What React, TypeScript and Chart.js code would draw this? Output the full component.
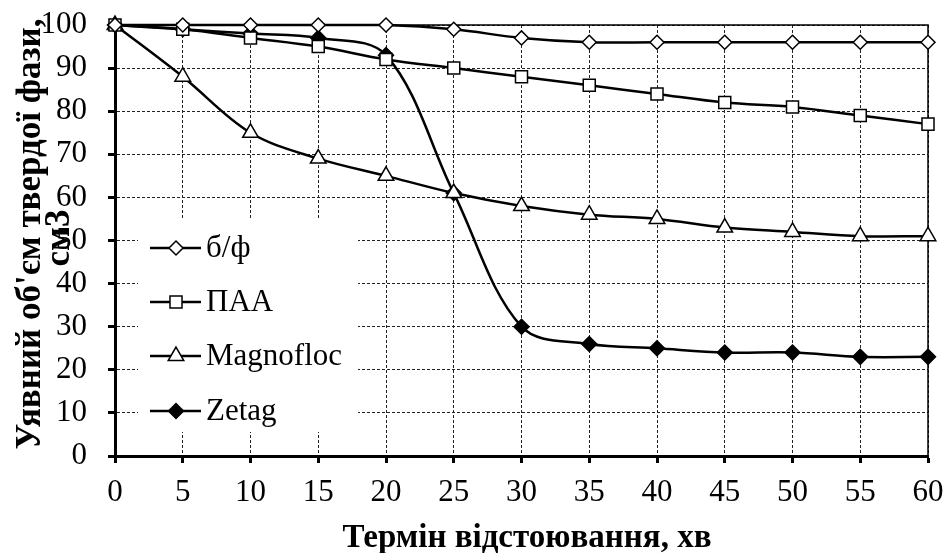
import React, { useEffect, useRef } from "react";
import { Chart, registerables } from "chart.js";

Chart.register(...registerables);

const times = [0, 5, 10, 15, 20, 25, 30, 35, 40, 45, 50, 55, 60];
const bf = [100, 100, 100, 100, 100, 99, 97, 96, 96, 96, 96, 96, 96];
const paa = [100, 99, 97, 95, 92, 90, 88, 86, 84, 82, 81, 79, 77];
const magnofloc = [100, 88, 75, 69, 65, 61, 58, 56, 55, 53, 52, 51, 51];
const zetag = [100, 99, 98, 97, 93, 61, 30, 26, 25, 24, 24, 23, 23];

const seriesNames = ["б/ф", "ПАА", "Magnofloc", "Zetag"];
const xTitle = "Термін відстоювання, хв";
const yTitleLines = ["Уявний об'єм твердої фази,", "см3"];

const FONT = "'Liberation Serif', 'Times New Roman', serif";

type Marker = { style: string; radius: number; fill: string };
const markers: Marker[] = [
  { style: "rectRot", radius: 7, fill: "#ffffff" },
  { style: "rect", radius: 8.5, fill: "#ffffff" },
  { style: "triangle", radius: 9, fill: "#ffffff" },
  { style: "rectRot", radius: 7.5, fill: "#000000" },
];

function drawMarker(ctx: CanvasRenderingContext2D, m: Marker, x: number, y: number) {
  const r = m.radius;
  ctx.beginPath();
  if (m.style === "rectRot") {
    ctx.moveTo(x - r, y);
    ctx.lineTo(x, y - r);
    ctx.lineTo(x + r, y);
    ctx.lineTo(x, y + r);
    ctx.closePath();
  } else if (m.style === "rect") {
    const s = r * Math.SQRT1_2;
    ctx.rect(x - s, y - s, 2 * s, 2 * s);
  } else {
    ctx.moveTo(x, y - r);
    ctx.lineTo(x + 0.866 * r, y + 0.5 * r);
    ctx.lineTo(x - 0.866 * r, y + 0.5 * r);
    ctx.closePath();
  }
  ctx.fillStyle = m.fill;
  ctx.fill();
  ctx.lineWidth = 1.5;
  ctx.strokeStyle = "#000";
  ctx.stroke();
}

const framePlugin = {
  id: "frameAndLegend",
  beforeDatasetsDraw(chart: any) {
    const { ctx, chartArea } = chart;
    ctx.save();
    ctx.strokeStyle = "#000";
    ctx.lineWidth = 1.5;
    ctx.setLineDash([]);
    ctx.beginPath();
    ctx.moveTo(chartArea.left, chartArea.top);
    ctx.lineTo(chartArea.right, chartArea.top);
    ctx.lineTo(chartArea.right, chartArea.bottom);
    ctx.stroke();
    // legend box
    ctx.fillStyle = "#fff";
    ctx.fillRect(138, 218, 220, 214);
    const rowY = [248, 302, 356, 411];
    ctx.font = `31px ${FONT}`;
    ctx.textAlign = "left";
    ctx.textBaseline = "middle";
    seriesNames.forEach((name, i) => {
      const y = rowY[i];
      ctx.strokeStyle = "#000";
      ctx.lineWidth = 2.5;
      ctx.beginPath();
      ctx.moveTo(150, y);
      ctx.lineTo(201, y);
      ctx.stroke();
      drawMarker(ctx, markers[i], 176, y);
      ctx.fillStyle = "#000";
      ctx.fillText(name, 206, y + 1);
    });
    ctx.restore();
  },
  afterDraw(chart: any) {
    const { ctx } = chart;
    ctx.save();
    ctx.fillStyle = "#000";
    ctx.textAlign = "center";
    ctx.textBaseline = "alphabetic";
    ctx.font = `bold 33px ${FONT}`;
    ctx.fillText(xTitle, 527, 547);
    ctx.font = `bold 35px ${FONT}`;
    ctx.save();
    ctx.translate(40, 234);
    ctx.rotate(-Math.PI / 2);
    ctx.fillText(yTitleLines[0], 0, 0);
    ctx.restore();
    ctx.save();
    ctx.translate(69, 238);
    ctx.rotate(-Math.PI / 2);
    ctx.fillText(yTitleLines[1], 0, 0);
    ctx.restore();
    ctx.restore();
  },
};

function zeroPadding(s: any) {
  s.paddingTop = 0;
  s.paddingBottom = 0;
  s.paddingLeft = 0;
  s.paddingRight = 0;
}

export default function App() {
  const ref = useRef<HTMLCanvasElement>(null);

  useEffect(() => {
    document.body.style.margin = "0";
    const canvas = ref.current!;
    const allSeries = [bf, paa, magnofloc, zetag];
    const datasets = allSeries.map((vals, i) => ({
      label: seriesNames[i],
      data: times.map((t, j) => ({ x: t, y: vals[j] })),
      borderColor: "#000",
      borderWidth: 2.5,
      tension: 0.35,
      pointStyle: markers[i].style,
      pointRadius: markers[i].radius,
      pointBackgroundColor: markers[i].fill,
      pointBorderColor: "#000",
      pointBorderWidth: 1.5,
      clip: false as any,
      fill: false,
    }));

    const chart = new Chart(canvas, {
      type: "line",
      data: { datasets },
      plugins: [framePlugin],
      options: {
        animation: false,
        responsive: false,
        devicePixelRatio: 1,
        layout: { padding: { top: 25, right: 19, bottom: 0, left: 0 } },
        plugins: {
          legend: { display: false },
          tooltip: { enabled: false },
          title: { display: false },
        },
        scales: {
          x: {
            type: "linear",
            min: 0,
            max: 60,
            afterFit: (s: any) => {
              s.height = 97;
              zeroPadding(s);
            },
            ticks: {
              stepSize: 5,
              autoSkip: false,
              maxRotation: 0,
              color: "#000",
              padding: 11,
              font: { family: FONT, size: 31 },
            },
            grid: {
              color: "#222",
              lineWidth: 1,
              tickLength: 7,
              tickWidth: 3,
              tickColor: "#000",
            },
            border: { display: true, width: 3, color: "#000", dash: [3, 2] },
          },
          y: {
            type: "linear",
            min: 0,
            max: 100,
            afterFit: (s: any) => {
              s.width = 115;
              zeroPadding(s);
            },
            ticks: {
              stepSize: 10,
              color: "#000",
              padding: 21,
              font: { family: FONT, size: 31 },
            },
            grid: {
              color: "#222",
              lineWidth: 1,
              tickLength: 7,
              tickWidth: 3,
              tickColor: "#000",
            },
            border: { display: true, width: 3, color: "#000", dash: [3, 2] },
          },
        },
      },
    });
    return () => chart.destroy();
  }, []);

  return (
    <div style={{ position: "absolute", left: 0, top: 0, width: 947, height: 553 }}>
      <canvas ref={ref} width={947} height={553} style={{ display: "block" }} />
    </div>
  );
}
